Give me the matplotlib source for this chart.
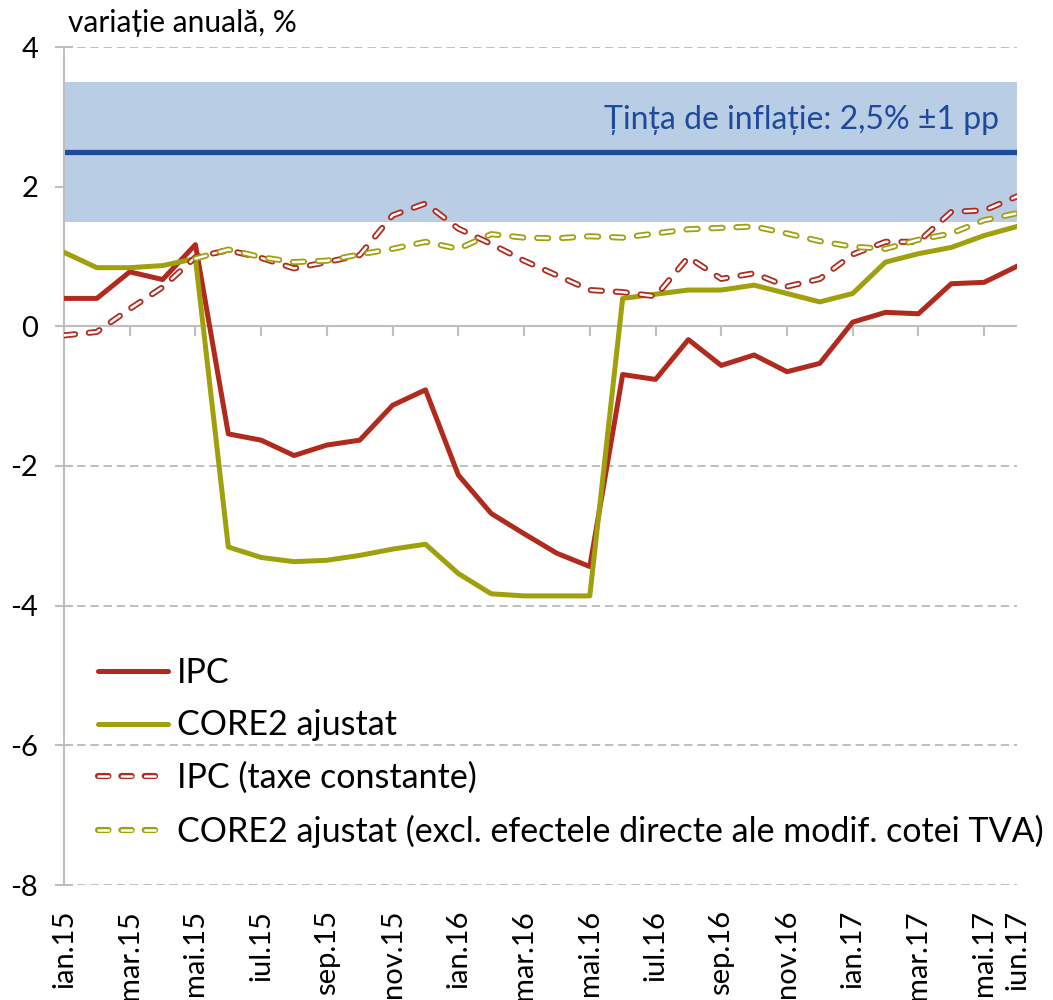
import numpy as np
import matplotlib
matplotlib.use("Agg")
import matplotlib.pyplot as plt
from matplotlib.lines import Line2D
from matplotlib.legend_handler import HandlerTuple

plt.rcParams['font.family'] = ['Lato', 'DejaVu Sans']
plt.rcParams['lines.scale_dashes'] = False
plt.rcParams['axes.unicode_minus'] = False

# data: annual change, %
months = ['ian.15', 'feb.15', 'mar.15', 'apr.15', 'mai.15', 'iun.15',
          'iul.15', 'aug.15', 'sep.15', 'oct.15', 'nov.15', 'dec.15',
          'ian.16', 'feb.16', 'mar.16', 'apr.16', 'mai.16', 'iun.16',
          'iul.16', 'aug.16', 'sep.16', 'oct.16', 'nov.16', 'dec.16',
          'ian.17', 'feb.17', 'mar.17', 'apr.17', 'mai.17', 'iun.17']

ipc = [0.40, 0.40, 0.78, 0.67, 1.17, -1.54, -1.63, -1.85, -1.70, -1.63,
       -1.13, -0.91, -2.13, -2.68, -2.97, -3.25, -3.44, -0.69, -0.76, -0.19,
       -0.56, -0.41, -0.65, -0.53, 0.06, 0.20, 0.18, 0.61, 0.63, 0.86]

core2 = [1.06, 0.84, 0.84, 0.87, 0.97, -3.16, -3.31, -3.37, -3.35, -3.28,
         -3.19, -3.12, -3.54, -3.83, -3.86, -3.86, -3.86, 0.40, 0.46, 0.52,
         0.52, 0.59, 0.47, 0.35, 0.47, 0.92, 1.04, 1.13, 1.30, 1.43]

ipc_const = [-0.13, -0.08, 0.25, 0.56, 0.99, 1.09, 0.98, 0.83, 0.92, 1.02,
             1.59, 1.76, 1.40, 1.18, 0.94, 0.73, 0.52, 0.49, 0.43, 0.99,
             0.68, 0.76, 0.57, 0.68, 1.03, 1.21, 1.21, 1.64, 1.66, 1.86]

core2_excl = [np.nan, np.nan, np.nan, np.nan, 0.97, 1.10, 0.99, 0.92, 0.94, 1.03,
              1.11, 1.21, 1.11, 1.32, 1.27, 1.26, 1.29, 1.27, 1.33, 1.39,
              1.41, 1.43, 1.33, 1.22, 1.14, 1.11, 1.24, 1.33, 1.52, 1.62]

tinta = 2.5
toleranta = 1.0

labels = ['IPC', 'CORE2 ajustat', 'IPC (taxe constante)',
          'CORE2 ajustat (excl. efectele directe ale modif. cotei TVA)']

RED = '#B02A1E'
OLIVE = '#A0A00C'
BLUE = '#1F4A9C'
GRAY = '#BFBFBF'
DASH = (8.0, 10.0)
LEG_DASH = (7.5, 9.3)
LW_OUT, LW_IN = 4.4, 1.8

x = np.arange(len(months))

fig = plt.figure(figsize=(10.53, 10), dpi=100)
ax = fig.add_axes([64 / 1053, 0.115, (1017 - 64) / 1053, 0.838])

# target band and line
ax.axhspan(tinta - toleranta, tinta + toleranta, color='#B9CDE5', zorder=1, lw=0)
ax.axhline(tinta, color=BLUE, lw=3.8, zorder=2)
ax.text(len(months) - 1.55, tinta + 0.32, 'Țința de inflație: 2,5% ±1 pp',
        color=BLUE, fontsize=23, ha='right', va='baseline', zorder=3)

ax.axhline(0, color=GRAY, lw=1.5, zorder=2)

# series
ax.plot(x, ipc, color=RED, lw=3.6, zorder=3)
ax.plot(x, core2, color=OLIVE, lw=3.6, zorder=4)


def hollow(y, color, z):
    ax.plot(x, y, color=color, lw=LW_OUT, dashes=DASH, dash_capstyle='round', zorder=z)
    ax.plot(x, y, color='white', lw=LW_IN, dashes=DASH, dash_capstyle='round', zorder=z + 0.1)


hollow(ipc_const, RED, 5)
hollow(core2_excl, OLIVE, 6)

ax.set_xlim(0, len(months) - 1)
ax.set_ylim(-8, 4)

# y axis
ax.set_yticks(range(-8, 5, 2))
ax.tick_params(axis='y', direction='inout', length=13, width=1.5, color=GRAY,
               labelsize=21, pad=12)
ax.set_axisbelow(True)
ax.grid(axis='y', color=GRAY, lw=1.4, ls=(0, (6, 3.5)))
for s in ['top', 'right', 'bottom']:
    ax.spines[s].set_visible(False)
ax.spines['left'].set_color(GRAY)
ax.spines['left'].set_linewidth(1.5)

# x labels at the bottom, tick marks on the zero line
pos = list(range(0, len(months), 2)) + [len(months) - 1]
ax.set_xticks(pos, [months[i] for i in pos], rotation=90)
ax.tick_params(axis='x', length=0, labelsize=21, pad=18)

sec = ax.secondary_xaxis((0 - (-8)) / 12)
sec.set_alignment('bottom')
sec.set_xticks(range(0, len(months), 2))
sec.tick_params(axis='x', direction='out', length=7, width=1.5, color=GRAY,
                labelbottom=False, labeltop=False)
sec.spines['bottom'].set_visible(False)
sec.spines['top'].set_visible(False)

fig.text(68 / 1053, 1 - 23 / 1000, 'variație anuală, %', fontsize=21.5,
         ha='left', va='center')


# legend
def leg_hollow(color):
    return (Line2D([], [], color=color, lw=LW_OUT, dashes=LEG_DASH, dash_capstyle='round'),
            Line2D([], [], color='white', lw=LW_IN, dashes=LEG_DASH, dash_capstyle='round'))


h1 = Line2D([], [], color=RED, lw=3.6, solid_capstyle='round')
h2 = Line2D([], [], color=OLIVE, lw=3.6, solid_capstyle='round')
fig.legend([h1, h2, leg_hollow(RED), leg_hollow(OLIVE)], labels, loc='upper left',
           bbox_to_anchor=(98 / 1053, 0.343), frameon=False, fontsize=24.5,
           handlelength=2.05, handletextpad=0.28, labelspacing=0.6,
           borderpad=0, borderaxespad=0,
           handler_map={tuple: HandlerTuple(ndivide=1, pad=0)})

fig.savefig('out.png', dpi=100)
